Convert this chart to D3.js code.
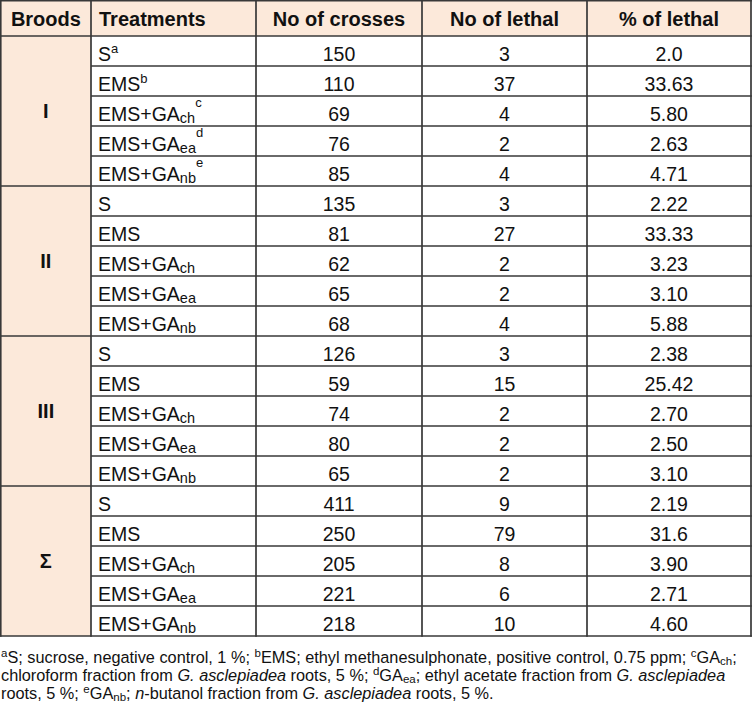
<!DOCTYPE html>
<html>
<head>
<meta charset="utf-8">
<script src="https://cdn.jsdelivr.net/npm/d3@7"></script>
<style>
  html, body { margin: 0; padding: 0; background: #fff; }
  svg { display: block; }
  text { font-family: "Liberation Sans", Arial, sans-serif; fill: #111; }
</style>
</head>
<body>
<svg id="chart" width="753" height="706"></svg>
<script>
// ---- data ----
const headers = ["Broods", "Treatments", "No of crosses", "No of lethal", "% of lethal"];
const broods = ["I", "II", "III", "Σ"];
const treatments = ["S", "EMS", "EMS+GA", "EMS+GA", "EMS+GA"];
const treatmentSubs = ["", "", "ch", "ea", "nb"];
const firstBroodSups = ["a", "b", "c", "d", "e"];
const crosses = [150, 110, 69, 76, 85, 135, 81, 62, 65, 68, 126, 59, 74, 80, 65, 411, 250, 205, 221, 218];
const lethal = [3, 37, 4, 2, 4, 3, 27, 2, 2, 4, 3, 15, 2, 2, 2, 9, 79, 8, 6, 10];
const pctLethal = ["2.0", "33.63", "5.80", "2.63", "4.71", "2.22", "33.33", "3.23", "3.10", "5.88",
                   "2.38", "25.42", "2.70", "2.50", "3.10", "2.19", "31.6", "3.90", "2.71", "4.60"];

// ---- layout ----
const svg = d3.select("#chart");
const colEdges = [0.75, 91, 256, 422, 587, 751];
const headerTop = 0.75, headerBottom = 36, tableBottom = 636;
const peach = "#fce9da";
const lineColor = "#383838";

const rows = d3.range(broods.length * treatments.length);
const y = d3.scaleBand().domain(rows).range([headerBottom, tableBottom]);
const colCenter = i => (colEdges[i] + colEdges[i + 1]) / 2;

// backgrounds
svg.append("rect").attr("x", colEdges[0]).attr("y", headerTop)
  .attr("width", colEdges[5] - colEdges[0]).attr("height", headerBottom - headerTop).attr("fill", peach);
svg.append("rect").attr("x", colEdges[0]).attr("y", headerBottom)
  .attr("width", colEdges[1] - colEdges[0]).attr("height", tableBottom - headerBottom).attr("fill", peach);

// header texts
svg.selectAll("text.hdr").data(headers).join("text")
  .attr("class", "hdr")
  .attr("x", (d, i) => i === 1 ? 99 : colCenter(i))
  .attr("y", 26)
  .attr("text-anchor", (d, i) => i === 1 ? "start" : "middle")
  .attr("font-size", 20).attr("font-weight", "bold")
  .text(d => d);

// data rows
const tableData = rows.map(r => ({
  r,
  brood: Math.floor(r / treatments.length),
  t: r % treatments.length,
  crosses: crosses[r], lethal: lethal[r], pct: pctLethal[r]
}));

const rowG = svg.append("g").selectAll("g.row").data(tableData).join("g").attr("class", "row");
const baseOff = 24.5;
const fs = 19.5;

// treatment text with sub/superscripts
rowG.each(function(d) {
  const txt = d3.select(this).append("text")
    .attr("x", 98).attr("y", y(d.r) + baseOff).attr("font-size", fs);
  txt.append("tspan").text(treatments[d.t]);
  const sub = treatmentSubs[d.t];
  if (sub) {
    txt.append("tspan").attr("dy", 2).attr("font-size", 14.5).text(sub);
  }
  if (d.brood === 0) {
    txt.append("tspan").attr("dy", sub ? -16 : -7.5).attr("font-size", 13).text(firstBroodSups[d.t]);
  }
});

[["crosses", 2], ["lethal", 3], ["pct", 4]].forEach(([key, ci]) => {
  rowG.append("text")
    .attr("x", colCenter(ci)).attr("y", d => y(d.r) + baseOff)
    .attr("text-anchor", "middle").attr("font-size", fs)
    .text(d => d[key]);
});

// brood labels
svg.selectAll("text.brood").data(broods).join("text")
  .attr("class", "brood")
  .attr("x", colCenter(0))
  .attr("y", (d, i) => (y(i * 5) + y(i * 5 + 4) + y.bandwidth()) / 2 + 7)
  .attr("text-anchor", "middle").attr("font-size", 20).attr("font-weight", "bold")
  .text(d => d);

// grid lines
const lines = svg.append("g").attr("stroke", lineColor).attr("stroke-width", 1.7).attr("fill", "none");
const xEnd = colEdges[5] + 0.85;
lines.append("line").attr("x1", 0).attr("x2", xEnd).attr("y1", headerTop).attr("y2", headerTop);
lines.append("line").attr("x1", 0).attr("x2", xEnd).attr("y1", headerBottom).attr("y2", headerBottom);
rows.slice(1).forEach(r => {
  const isGroup = r % treatments.length === 0;
  lines.append("line")
    .attr("x1", isGroup ? 0 : colEdges[1]).attr("x2", xEnd)
    .attr("y1", y(r)).attr("y2", y(r));
});
lines.append("line").attr("x1", 0).attr("x2", xEnd).attr("y1", tableBottom).attr("y2", tableBottom);
colEdges.forEach(x => {
  lines.append("line").attr("x1", x).attr("x2", x).attr("y1", 0).attr("y2", tableBottom + 0.85);
});

// footnote
const fn = svg.append("g").attr("font-size", 16.3);
const noteLines = [
  [["sup","a"],["n","S; sucrose, negative control, 1 %; "],["sup","b"],["n","EMS; ethyl methanesulphonate, positive control, 0.75 ppm; "],["sup","c"],["n","GA"],["sub","ch"],["n",";"]],
  [["n","chloroform fraction from "],["i","G. asclepiadea"],["n"," roots, 5 %; "],["sup","d"],["n","GA"],["sub","ea"],["n","; ethyl acetate fraction from "],["i","G. asclepiadea"]],
  [["n","roots, 5 %; "],["sup","e"],["n","GA"],["sub","nb"],["n","; "],["i","n"],["n","-butanol fraction from "],["i","G. asclepiadea"],["n"," roots, 5 %."]]
];
noteLines.forEach((parts, li) => {
  const t = fn.append("text").attr("x", 1).attr("y", 663 + li * 18);
  let shift = 0;
  parts.forEach(([kind, s]) => {
    let target = 0;
    if (kind === "sup") target = -6;
    if (kind === "sub") target = 2;
    const ts = t.append("tspan").attr("dy", target - shift).text(s);
    shift = target;
    if (kind === "sup" || kind === "sub") ts.attr("font-size", 11.5);
    if (kind === "i") ts.attr("font-style", "italic");
  });
});
</script>
</body>
</html>
